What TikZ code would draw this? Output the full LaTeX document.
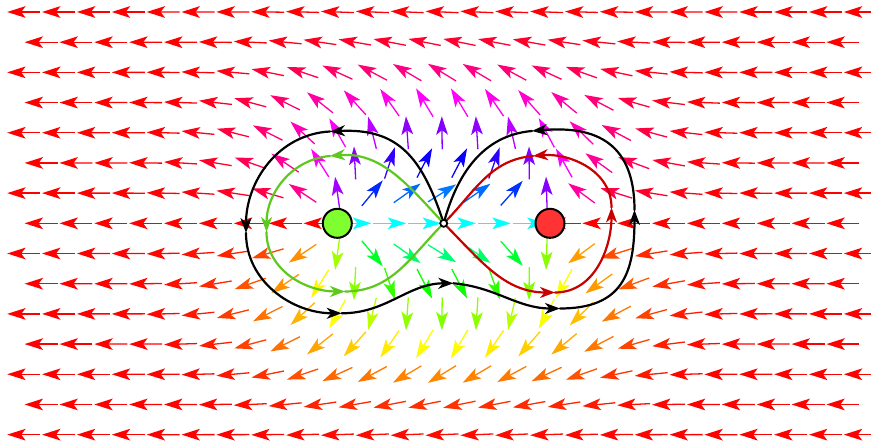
\documentclass[tikz,border=0pt]{standalone}
\usepackage{tikz}
\usetikzlibrary{arrows.meta,calc}
\usepackage{xcolor}
\definecolor{LoopGreen}{HTML}{5FC81E}
\definecolor{LoopRed}{HTML}{C80000}
\definecolor{SrcFill}{HTML}{80FF30}
\definecolor{SnkFill}{HTML}{FF3333}
\newcommand{\FieldArrow}[2]{%
  \pgfmathsetmacro{\fldx}{(#1-443.7)/106.3}%
  \pgfmathsetmacro{\fldy}{(#2-222.67)/106.3}%
  \pgfmathsetmacro{\flddel}{atan2(\fldy,\fldx+1)-atan2(\fldy,\fldx-1)}%
  \pgfmathsetmacro{\fldsx}{max(abs(\fldx)-1,0)}%
  \pgfmathsetmacro{\fldr}{(\fldsx*\fldsx+\fldy*\fldy)/2.25}%
  \pgfmathsetmacro{\fldturn}{exp(-min(\fldr*\fldr,20))*\flddel}%
  \pgfmathsetmacro{\fldhue}{mod(360+\fldturn,360)}%
  \pgfmathsetmacro{\fldhue}{\fldhue>359.5 ? 0 : \fldhue}%
  \pgfmathsetmacro{\fldang}{180+\fldturn}%
  \definecolor{FieldCol}{Hsb}{\fldhue,1,1}%
  \begin{scope}[shift={(#1,#2)},rotate=\fldang]
    \draw[fieldshaft] (-16.5,0) -- (3,0);
    \fill[FieldCol] (16.5,0) -- (-2,5.9) -- (2.5,0) -- (-2,-5.9) -- cycle;
  \end{scope}%
}

\begin{document}
\begin{tikzpicture}[x=1pt,y=1pt,
  fieldshaft/.style={line width=1.3pt,FieldCol},
  loopline/.style={line width=2.2pt,line cap=round},
  looptip/.style={-{Stealth[length=15pt,width=11pt,inset=4.5pt]}},
  dot/.style={circle,draw=black,line width=2pt,minimum size=29pt,inner sep=0pt}]
\useasboundingbox (0,0) rectangle (871,446);
\clip (0,0) rectangle (871,446);
\foreach \row in {0,...,14} {
  \pgfmathsetmacro{\ypos}{434-30.19*\row}
  \pgfmathsetmacro{\xstart}{isodd(\row) ? 41.1 : 23.7}
  \pgfmathtruncatemacro{\ncols}{isodd(\row) ? 23 : 24}
  \foreach \col in {0,...,\ncols} {
    \pgfmathsetmacro{\xpos}{\xstart+34.86*\col}
    \FieldArrow{\xpos}{\ypos}
  }
}
\coordinate (S) at (443.7,222.67);
\coordinate (b1) at (330,314.5);
\coordinate (b2) at (246,213);
\coordinate (b3) at (341.7,132.7);
\coordinate (b4) at (453.3,162.7);
\coordinate (b5) at (560,137.5);
\coordinate (b6) at (634.5,236);
\coordinate (b7) at (532,315);
\coordinate (g1) at (330,290);
\coordinate (g2) at (266.5,214);
\coordinate (g3) at (345,154.5);
\coordinate (r1) at (533,290);
\coordinate (r2) at (611.5,238.5);
\coordinate (r3) at (555,153.5);
\draw[loopline,black,looptip] (S) to[out=108,in=3,looseness=1.2] (b1);
\draw[loopline,black,looptip] (b1) to[out=183,in=90] (b2);
\draw[loopline,black,looptip] (b2) to[out=-90,in=180] (b3);
\draw[loopline,black,looptip] (b3) to[out=0,in=180] (b4);
\draw[loopline,black,looptip] (b4) to[out=-5,in=180] (b5);
\draw[loopline,black,looptip] (b5) to[out=0,in=-90,looseness=1.3] (b6);
\draw[loopline,black,looptip] (b6) to[out=90,in=5,looseness=1.3] (b7);
\draw[loopline,black] (b7) to[out=185,in=75] (S);
\draw[loopline,LoopGreen,looptip] (S) to[out=133,in=5] (g1);
\draw[loopline,LoopGreen,looptip] (g1) to[out=185,in=90] (g2);
\draw[loopline,LoopGreen,looptip] (g2) to[out=-90,in=180] (g3);
\draw[loopline,LoopGreen] (g3) to[out=0,in=-135] (S);
\draw[loopline,LoopRed,looptip] (S) to[out=-45,in=180] (r3);
\draw[loopline,LoopRed,looptip] (r3) to[out=0,in=-90] (r2);
\draw[loopline,LoopRed,looptip] (r2) to[out=90,in=5] (r1);
\draw[loopline,LoopRed] (r1) to[out=185,in=45] (S);
\node[dot,fill=SrcFill] (L) at (337.3,222.67) {};
\node[dot,fill=SnkFill] (R) at (550,222.67) {};
\node[circle,draw=black,fill=white,line width=1.8pt,minimum size=7pt,inner sep=0pt] (S0) at (S) {};
\end{tikzpicture}
\end{document}
